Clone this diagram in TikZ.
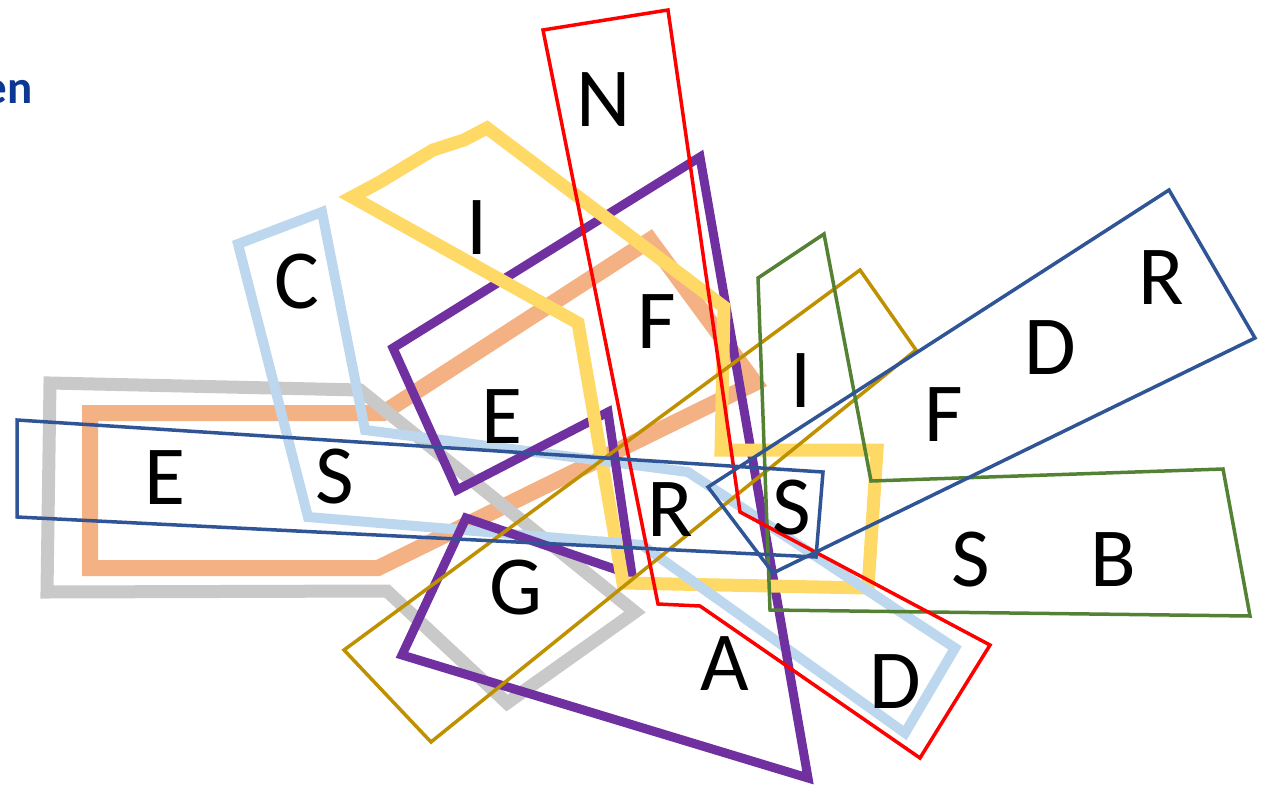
\documentclass[tikz,border=0pt]{standalone}
\usepackage{fontspec}
\setmainfont{Carlito}
\definecolor{titleBlue}{RGB}{12,56,146}
\definecolor{frameRed}{RGB}{255,0,0}
\definecolor{framePurple}{RGB}{112,48,160}
\definecolor{frameYellow}{RGB}{255,217,102}
\definecolor{frameOrange}{RGB}{244,177,131}
\definecolor{frameGray}{RGB}{201,201,201}
\definecolor{frameSky}{RGB}{189,215,238}
\definecolor{frameNavy}{RGB}{47,85,151}
\definecolor{frameGreen}{RGB}{84,130,53}
\definecolor{frameOlive}{RGB}{191,144,0}
\newcommand{\skyoutline}{(238,244) -- (322,212) -- (365,430) -- (688,472) -- (955,648) -- (905,733) -- (642,545) -- (308,517) -- cycle}
\begin{document}
\begin{tikzpicture}[x=1pt, y=-1pt, line join=miter,
  letter/.style={font=\fontsize{84}{84}\selectfont, text=black, inner sep=0pt},
  thinframe/.style={line width=3.5pt},
  skyframe/.style={frameSky, line width=10pt}]
  \useasboundingbox (0,0) rectangle (1263,787);

  % Title fragment, cut at the left edge
  \node[anchor=base east, inner sep=0pt, text=titleBlue, font=\bfseries\fontsize{47}{47}\selectfont] (title) at (33,103) {en};

  % Orange band
  \draw[frameOrange, line width=16pt] (90,413) -- (383,413) -- (650,240) -- (755,383) -- (378,568) -- (90,568) -- cycle;

  % Gray band
  \draw[frameGray, line width=13pt] (50,383) -- (360,390) -- (635,612) -- (507,703) -- (387,591) -- (47,592) -- cycle;

  % Light blue frame
  \draw[skyframe] \skyoutline;

  % Purple frame
  \draw[framePurple, line width=9pt] (393,348) -- (700,157) -- (808,778) -- (402,655) -- (466,518) -- (632,575) -- (608,412) -- (457,490) -- cycle;

  % Yellow frame
  \draw[frameYellow, line width=13pt] (352,197) -- (380,182) -- (408,165) -- (433,150) -- (464,140) -- (487,128) -- (724,307) -- (721,450) -- (877,450) -- (868,588) -- (623,583) -- (578,323) -- cycle;

  % Light blue again where it lies over the yellow
  \begin{scope}
    \clip (585,440) rectangle (609,480) (600,525) rectangle (622,560) (680,568) rectangle (720,602) (845,570) rectangle (892,612);
    \draw[skyframe] \skyoutline;
  \end{scope}

  % Olive frame
  \draw[frameOlive, thinframe] (344,650) -- (860,270) -- (916,350) -- (431,742) -- cycle;

  % Green frame
  \draw[frameGreen, thinframe] (758,278) -- (824,234) -- (871,481) -- (1223,469) -- (1250,616) -- (770,610) -- cycle;

  % Red frame
  \draw[frameRed, thinframe] (543,30) -- (668,10) -- (740,512) -- (990,645) -- (920,758) -- (700,606) -- (658,604) -- cycle;

  % Navy frames
  \draw[frameNavy, thinframe] (17,420) -- (823,472) -- (816,557) -- (17,517) -- cycle;
  \draw[frameNavy, thinframe] (708,487) -- (1169,190) -- (1255,338) -- (773,573) -- cycle;

  % Letters
  \node[letter] (nTop) at (604,100) {N};
  \node[letter] (iYellow) at (477,228) {I};
  \node[letter] (cSky) at (297,282) {C};
  \node[letter] (fRed) at (657,322) {F};
  \node[letter] (ePurple) at (502,417) {E};
  \node[letter] (iGreen) at (801,381) {I};
  \node[letter] (fNavy) at (944,415) {F};
  \node[letter] (dNavy) at (1050,348) {D};
  \node[letter] (rNavy) at (1161,278) {R};
  \node[letter] (eLeft) at (165,478) {E};
  \node[letter] (sLeft) at (335,477) {S};
  \node[letter] (rMid) at (670,510) {R};
  \node[letter] (sMid) at (792,508) {S};
  \node[letter] (sGreen) at (971,560) {S};
  \node[letter] (bGreen) at (1113,560) {B};
  \node[letter] (gOlive) at (516,588) {G};
  \node[letter] (aPurple) at (725,664) {A};
  \node[letter] (dRed) at (895,682) {D};
\end{tikzpicture}
\end{document}
